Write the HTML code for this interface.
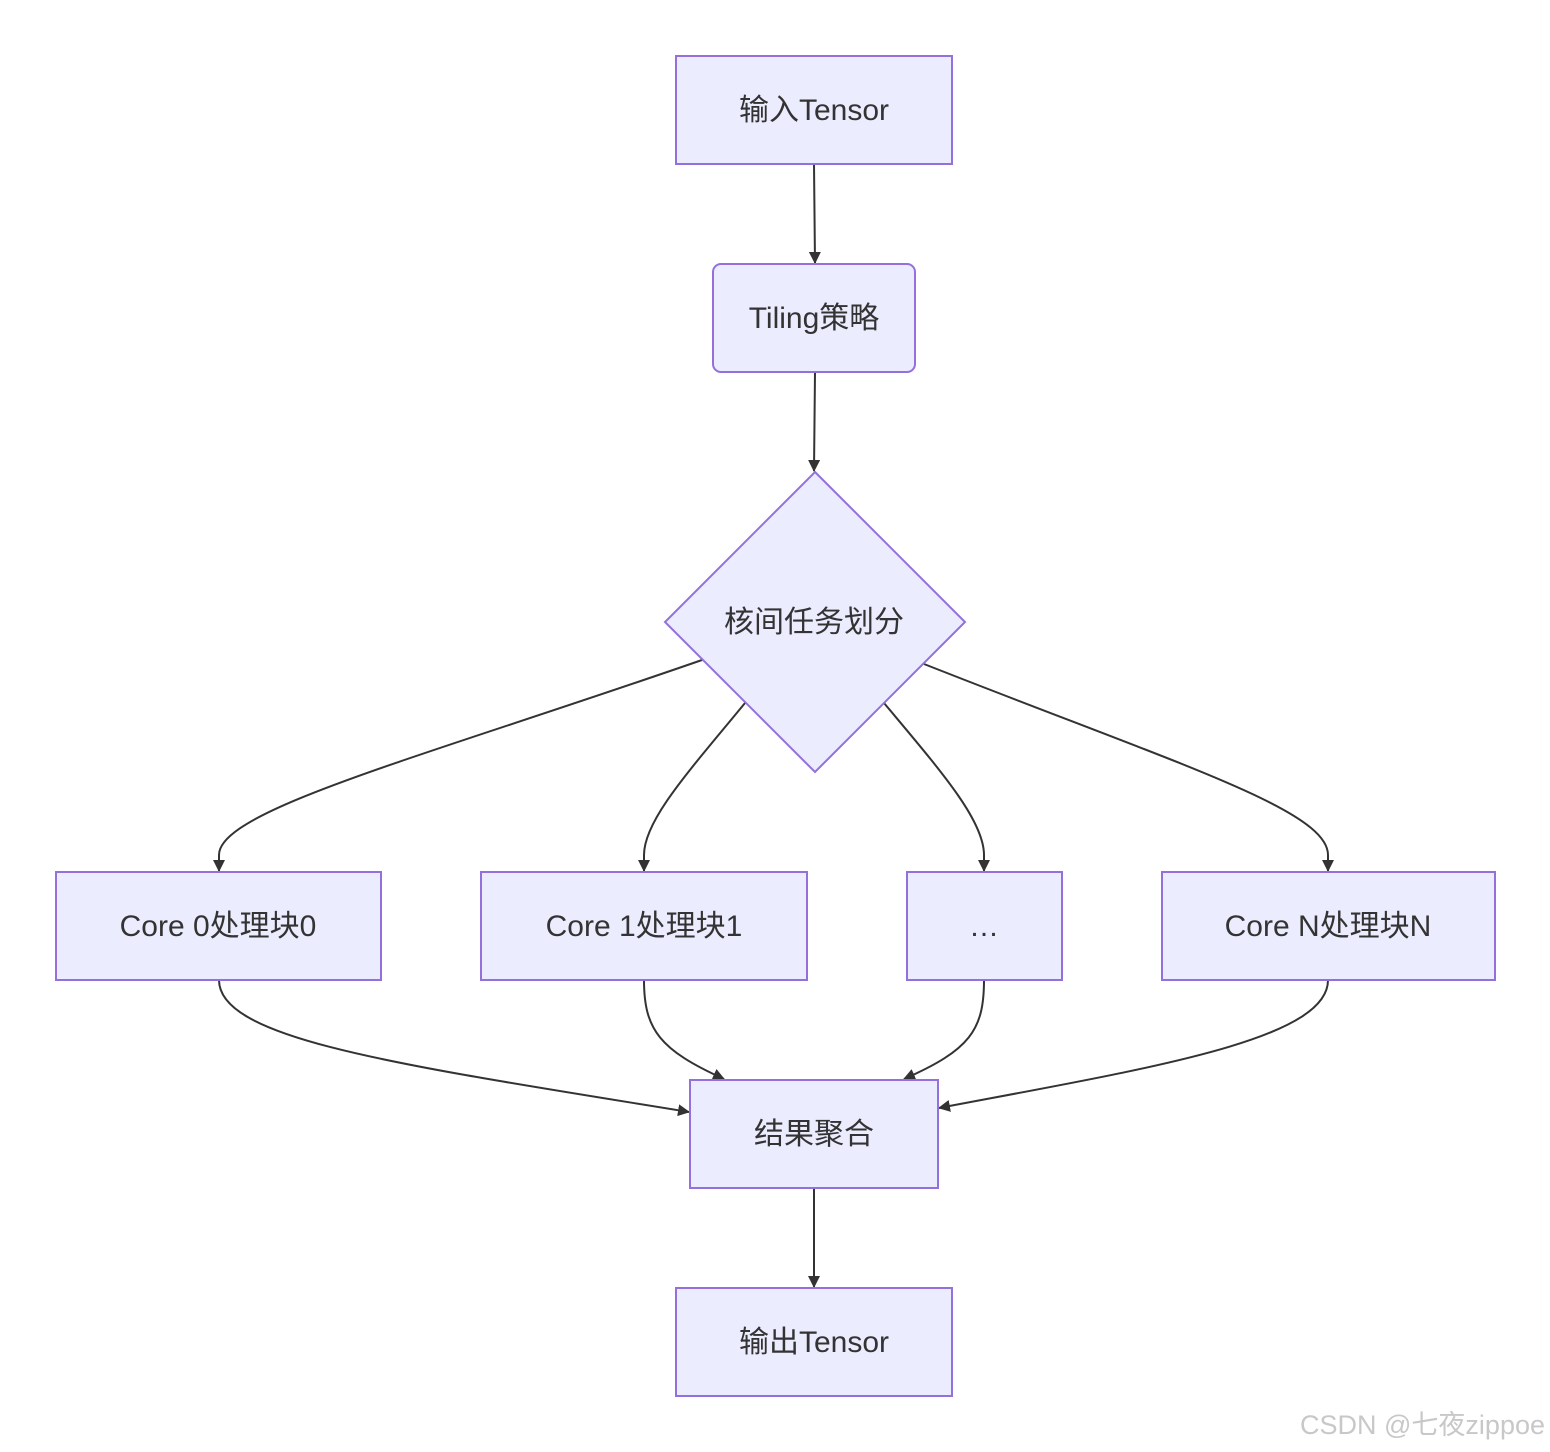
<!DOCTYPE html>
<html><head><meta charset="utf-8"><style>
html,body{margin:0;padding:0;background:#fff;}
svg{display:block;}
text{font-family:"Liberation Sans","Noto Sans CJK SC",sans-serif;fill:#333;font-size:30px;}
.n{fill:#ECECFF;stroke:#9370DB;stroke-width:2;}
.e{fill:none;stroke:#333;stroke-width:2;}
</style></head><body>
<svg width="1550" height="1452" viewBox="0 0 1550 1452" xmlns="http://www.w3.org/2000/svg">
<defs><marker id="a" viewBox="0 0 12 12" refX="11" refY="6" markerWidth="12" markerHeight="12" markerUnits="userSpaceOnUse" orient="auto"><path d="M0,0 L12,6 L0,12 z" fill="#333"/></marker></defs>
<path class="e" d="M814,164 L815,263" marker-end="url(#a)"/>
<path class="e" d="M815,372 L814,471" marker-end="url(#a)"/>
<path class="e" d="M702,660 C420,758 219,810 219,855 L219,871" marker-end="url(#a)"/>
<path class="e" d="M745,703 C690,770 644,820 644,855 L644,871" marker-end="url(#a)"/>
<path class="e" d="M884,703 C940,770 984,820 984,855 L984,871" marker-end="url(#a)"/>
<path class="e" d="M924,664 C1180,765 1328,810 1328,855 L1328,871" marker-end="url(#a)"/>
<path class="e" d="M219,980 C219,1040 400,1065 689,1112" marker-end="url(#a)"/>
<path class="e" d="M644,980 C644,1030 660,1050 724,1079" marker-end="url(#a)"/>
<path class="e" d="M984,980 C984,1030 970,1050 904,1079" marker-end="url(#a)"/>
<path class="e" d="M1328,980 C1328,1040 1150,1068 939,1108" marker-end="url(#a)"/>
<path class="e" d="M814,1188 L814,1287" marker-end="url(#a)"/>
<rect class="n" x="676" y="56" width="276" height="108"/>
<text x="814" y="120" text-anchor="middle">输入Tensor</text>
<rect class="n" x="713" y="264" width="202" height="108" rx="8"/>
<text x="814" y="328" text-anchor="middle">Tiling策略</text>
<polygon class="n" points="815,472 965,622 815,772 665,622"/>
<text x="814" y="632" text-anchor="middle">核间任务划分</text>
<rect class="n" x="56" y="872" width="325" height="108"/>
<text x="218" y="936" text-anchor="middle">Core 0处理块0</text>
<rect class="n" x="481" y="872" width="326" height="108"/>
<text x="644" y="936" text-anchor="middle">Core 1处理块1</text>
<rect class="n" x="907" y="872" width="155" height="108"/>
<text x="984" y="936" text-anchor="middle">…</text>
<rect class="n" x="1162" y="872" width="333" height="108"/>
<text x="1328" y="936" text-anchor="middle">Core N处理块N</text>
<rect class="n" x="690" y="1080" width="248" height="108"/>
<text x="814" y="1144" text-anchor="middle">结果聚合</text>
<rect class="n" x="676" y="1288" width="276" height="108"/>
<text x="814" y="1352" text-anchor="middle">输出Tensor</text>
<text x="1545" y="1434" text-anchor="end" style="font-size:27px;fill:#c8c8c8;">CSDN @七夜zippoe</text>
</svg>
</body></html>
